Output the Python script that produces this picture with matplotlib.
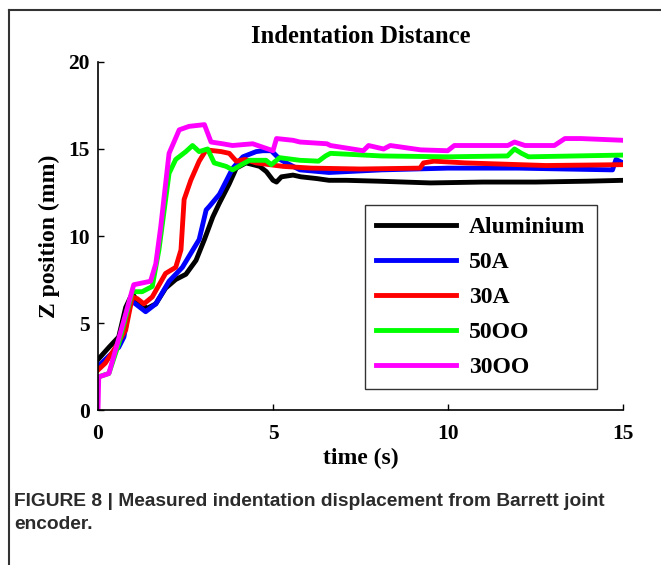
import matplotlib
matplotlib.use('Agg')
import matplotlib.pyplot as plt
from matplotlib.lines import Line2D

# values (time in s, Z position in mm)
t_alu = [0, 0.31, 0.59, 0.79, 0.98, 1.17, 1.41, 1.65, 1.93, 2.22, 2.51, 2.8, 3.04, 3.28, 3.47, 3.75,
         3.95, 4.23, 4.43, 4.62, 4.81, 5.0, 5.1, 5.24, 5.57, 5.8, 6.25, 6.6, 7.1, 8.0, 9.5, 11.0,
         12.5, 14.0, 15.0]
z_alu = [2.9, 3.6, 4.2, 5.9, 6.7, 6.1, 5.85, 6.1, 7.0, 7.5, 7.8, 8.6, 9.8, 11.1, 11.9, 13.0,
         13.9, 14.2, 14.1, 14.0, 13.7, 13.2, 13.1, 13.4, 13.5, 13.4, 13.3, 13.2, 13.2, 13.15, 13.05, 13.1,
         13.1, 13.15, 13.2]

t_50a = [0, 0.31, 0.59, 0.74, 0.93, 1.07, 1.36, 1.65, 2.03, 2.41, 2.89, 3.09, 3.18, 3.47, 3.85, 4.14,
         4.52, 4.71, 4.95, 5.2, 5.38, 5.77, 6.6, 8.1, 10.0, 12.0, 14.7, 14.8, 15.0]
z_50a = [2.5, 3.1, 3.6, 4.2, 6.3, 6.1, 5.65, 6.1, 7.4, 8.2, 9.8, 11.5, 11.7, 12.4, 13.9, 14.55,
         14.85, 14.9, 14.9, 14.4, 14.2, 13.8, 13.65, 13.8, 13.9, 13.9, 13.8, 14.4, 14.2]

t_30a = [0, 0.21, 0.5, 0.79, 0.98, 1.12, 1.31, 1.55, 1.93, 2.22, 2.37, 2.46, 2.65, 2.89, 3.09, 3.52,
         3.75, 3.95, 4.2, 4.52, 5.29, 6.1, 7.5, 9.2, 9.3, 9.6, 10.5, 12.8, 15.0]
z_30a = [2.3, 2.7, 3.6, 4.6, 6.5, 6.4, 6.1, 6.5, 7.85, 8.2, 9.2, 12.1, 13.2, 14.3, 14.95, 14.85,
         14.75, 14.3, 14.4, 14.2, 14.0, 13.9, 13.85, 13.9, 14.2, 14.3, 14.2, 14.05, 14.1]

t_50oo = [0, 0.31, 0.59, 0.98, 1.26, 1.55, 1.74, 2.03, 2.22, 2.51, 2.7, 2.89, 3.13, 3.32, 3.66, 3.85,
          4.1, 4.33, 4.8, 4.95, 5.19, 5.77, 6.3, 6.5, 6.64, 8.1, 10.0, 11.7, 11.9, 12.1, 12.3, 15.0]
z_50oo = [1.9, 2.1, 3.8, 6.8, 6.8, 7.1, 9.2, 13.6, 14.4, 14.85, 15.2, 14.85, 15.0, 14.2, 14.0, 13.8,
          14.1, 14.35, 14.35, 14.1, 14.5, 14.35, 14.3, 14.6, 14.75, 14.6, 14.55, 14.6, 15.0, 14.75, 14.55, 14.65]

t_30oo = [0, 0.02, 0.31, 0.69, 1.02, 1.5, 1.65, 1.79, 2.03, 2.32, 2.6, 3.04, 3.23, 3.56, 3.84, 4.42,
          5.0, 5.1, 5.57, 5.77, 6.54, 6.64, 7.58, 7.73, 8.16, 8.35, 9.22, 9.99, 10.18, 11.71, 11.9, 12.2,
          13.04, 13.34, 13.8, 15.0]
z_30oo = [0, 1.9, 2.1, 4.8, 7.2, 7.4, 8.4, 10.5, 14.75, 16.1, 16.3, 16.4, 15.4, 15.3, 15.2, 15.3,
          14.9, 15.6, 15.5, 15.4, 15.3, 15.2, 14.9, 15.2, 15.0, 15.2, 14.95, 14.9, 15.2, 15.2, 15.4, 15.2,
          15.2, 15.6, 15.6, 15.5]

labels = ['Aluminium', '50A', '30A', '50OO', '30OO']
colors = ['#000000', '#0000ff', '#ff0000', '#00ff00', '#ff00ff']
x_ticks = [0, 5, 10, 15]
y_ticks = [0, 5, 10, 15, 20]

serif = 'Liberation Serif'

fig = plt.figure(figsize=(6.61, 5.65), dpi=100)
ax = fig.add_axes([0.1483, 0.2743, 0.7942, 0.6160])

series = [(t_alu, z_alu), (t_50a, z_50a), (t_30a, z_30a), (t_50oo, z_50oo), (t_30oo, z_30oo)]
for (t, z), lab, c in zip(series, labels, colors):
    ax.plot(t, z, color=c, lw=3.5, label=lab, solid_joinstyle='round')

ax.set_xlim(0, 15)
ax.set_ylim(0, 20)
ax.set_xticks(x_ticks)
ax.set_yticks(y_ticks)
ax.spines['top'].set_visible(False)
ax.spines['right'].set_visible(False)
ax.spines['left'].set_linewidth(1.2)
ax.spines['bottom'].set_linewidth(1.2)
ax.tick_params(direction='in', length=4, width=1, labelsize=15.5)
ax.tick_params(axis='x', pad=10)
ax.tick_params(axis='y', pad=6)
for lbl in ax.get_xticklabels() + ax.get_yticklabels():
    lbl.set_fontfamily(serif)
    lbl.set_fontweight('bold')

ax.set_title('Indentation Distance', fontsize=17.7, fontweight='bold', family=serif, pad=14)
ax.set_xlabel('time (s)', fontsize=17, fontweight='bold', family=serif, labelpad=3)
ax.set_ylabel('Z position (mm)', fontsize=17, fontweight='bold', family=serif, labelpad=6)

leg = ax.legend(loc='lower left', bbox_to_anchor=(0.508, 0.06), borderaxespad=0,
                prop={'family': serif, 'weight': 'bold', 'size': 17},
                handlelength=3.4, handletextpad=0.55, labelspacing=0.57,
                borderpad=0.47, fancybox=False, framealpha=1)
leg.get_frame().set_edgecolor('#333333')
leg.get_frame().set_linewidth(1.0)
for h in leg.get_lines():
    h.set_linewidth(3.5)

# frame of the figure panel
fig.add_artist(Line2D([9 / 661, 1], [1 - 10 / 565, 1 - 10 / 565], color='#333333', lw=1.5))
fig.add_artist(Line2D([9 / 661, 9 / 661], [0, 1 - 10 / 565], color='#333333', lw=1.5))

fig.text(14 / 661, 1 - 513 / 565,
         'FIGURE 8 | Measured indentation displacement from Barrett joint\nencoder.',
         fontsize=13.8, fontweight='bold', family=['Liberation Sans', 'DejaVu Sans'],
         color='#2b2b2b', va='center', ha='left', linespacing=1.42)

fig.savefig('out.png', dpi=100)
